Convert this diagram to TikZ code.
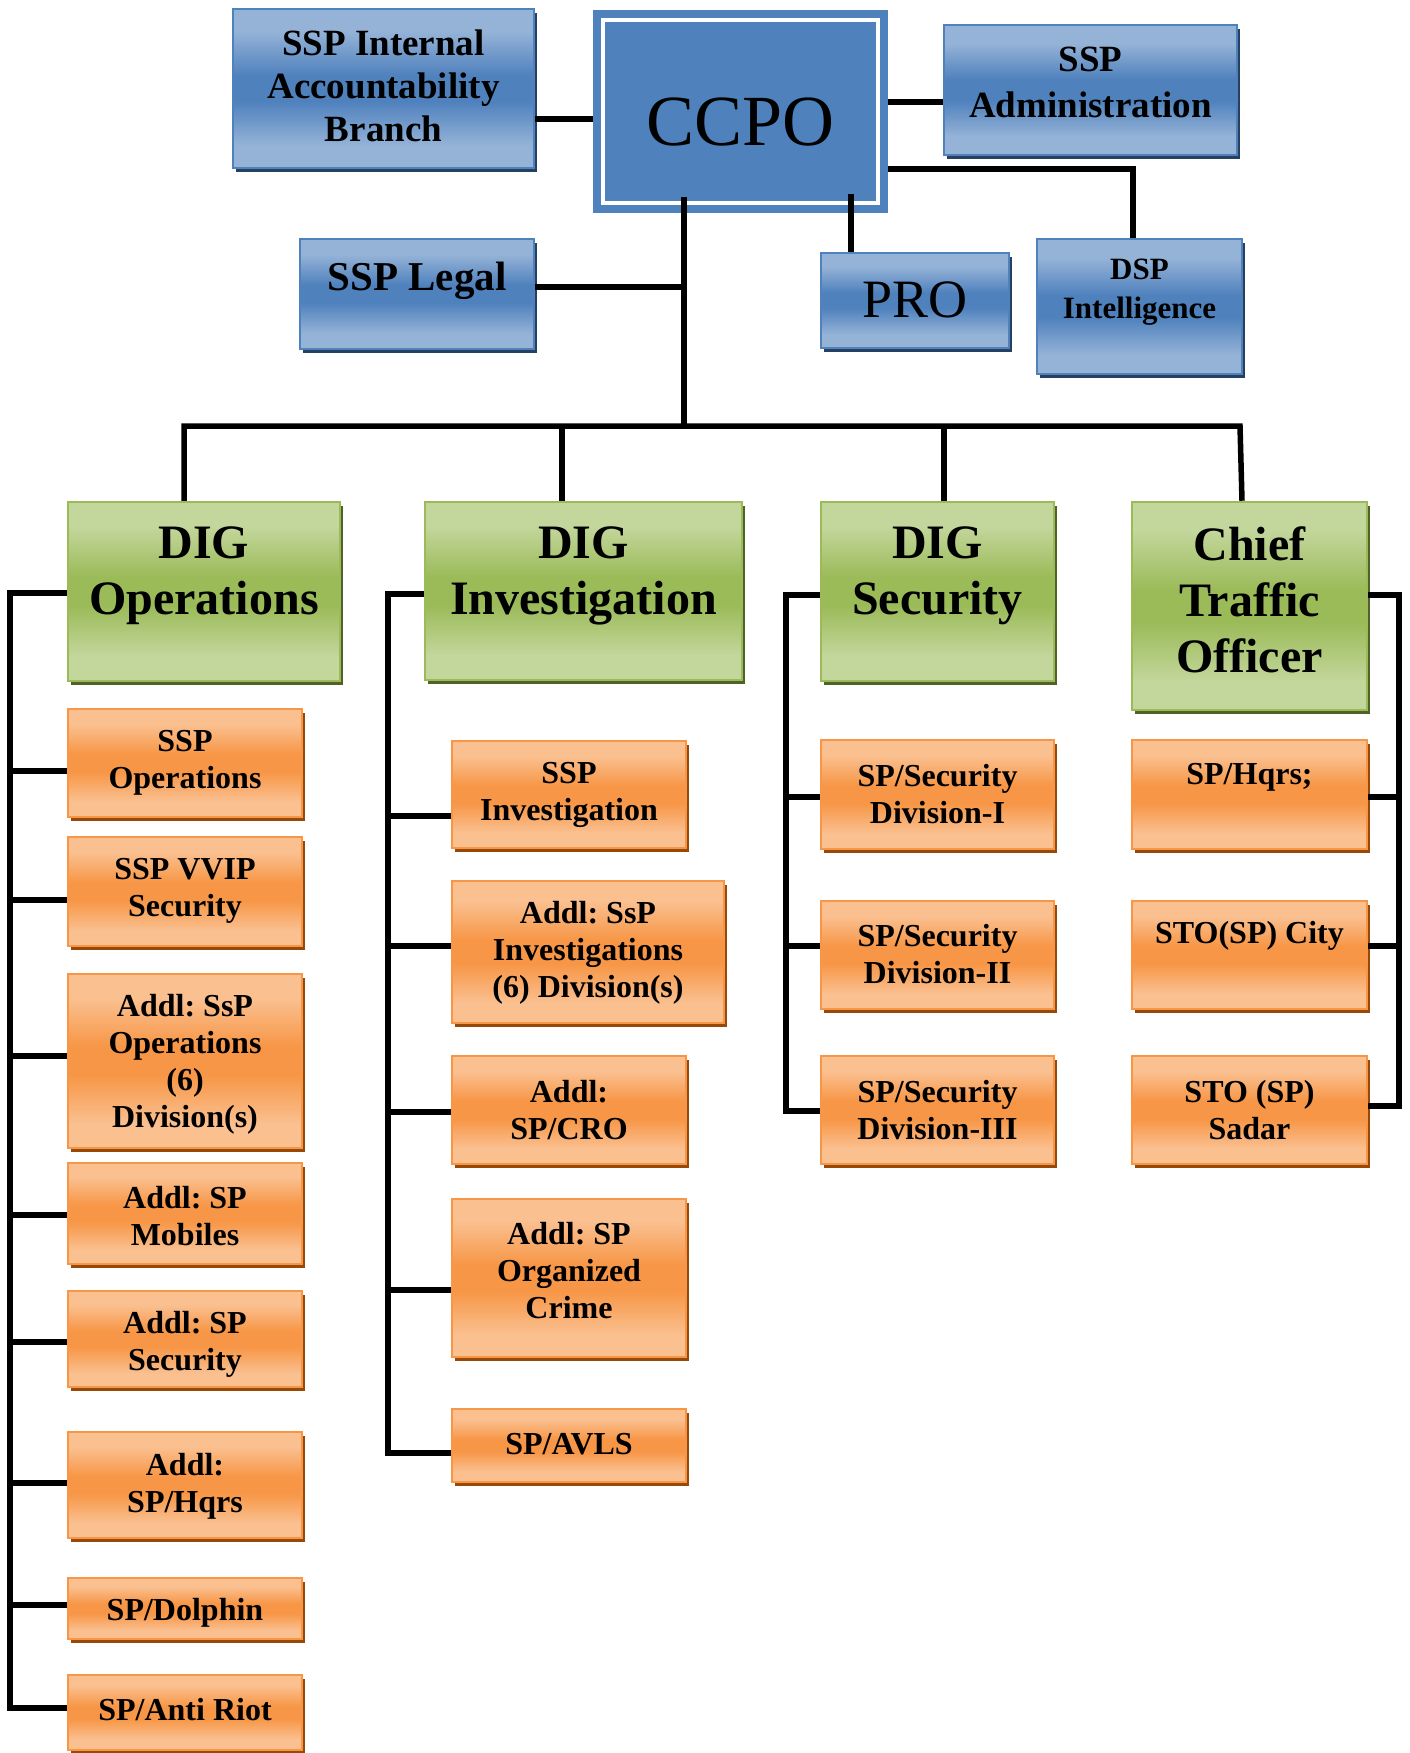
\documentclass[tikz,border=0pt]{standalone}
\usepackage{fontspec}
\setmainfont{Liberation Serif}
\usetikzlibrary{shadows,fit}
\frenchspacing
\definecolor{cbL}{HTML}{95B3D7}
\definecolor{cbD}{HTML}{4F81BD}
\definecolor{cbS}{HTML}{254061}
\definecolor{cgL}{HTML}{C3D69B}
\definecolor{cgD}{HTML}{9BBB59}
\definecolor{cgS}{HTML}{4F6228}
\definecolor{coL}{HTML}{FAC090}
\definecolor{coD}{HTML}{F79646}
\definecolor{coS}{HTML}{984807}
\pgfdeclareverticalshading{bshade}{100bp}{color(0bp)=(cbL); color(32bp)=(cbL); color(46bp)=(cbD); color(54bp)=(cbD); color(68bp)=(cbL); color(100bp)=(cbL)}
\pgfdeclareverticalshading{gshade}{100bp}{color(0bp)=(cgL); color(32bp)=(cgL); color(46bp)=(cgD); color(54bp)=(cgD); color(68bp)=(cgL); color(100bp)=(cgL)}
\pgfdeclareverticalshading{oshade}{100bp}{color(0bp)=(coL); color(32bp)=(coL); color(46bp)=(coD); color(54bp)=(coD); color(68bp)=(coL); color(100bp)=(coL)}
\begin{document}
\begin{tikzpicture}[x=1pt,y=-1pt,
  bbox/.style={draw=cbD, line width=2.5pt, shade, shading=bshade, inner sep=0pt,
    drop shadow={shadow xshift=3pt, shadow yshift=-4pt, fill=cbS, opacity=1}},
  gbox/.style={draw=cgD, line width=2.5pt, shade, shading=gshade, inner sep=0pt,
    drop shadow={shadow xshift=3pt, shadow yshift=-4pt, fill=cgS, opacity=1}},
  obox/.style={draw=coD, line width=2.5pt, shade, shading=oshade, inner sep=0pt,
    drop shadow={shadow xshift=3pt, shadow yshift=-4pt, fill=coS, opacity=1}},
  conn/.style={line width=5.5pt, draw=black, line join=miter},
  fsib/.style={align=center, inner sep=0pt, font=\bfseries\fontsize{37pt}{43pt}\selectfont},
  fadm/.style={align=center, inner sep=0pt, font=\bfseries\fontsize{37pt}{46pt}\selectfont},
  fleg/.style={align=center, inner sep=0pt, font=\bfseries\fontsize{41pt}{46pt}\selectfont},
  fdsp/.style={align=center, inner sep=0pt, font=\bfseries\fontsize{31pt}{39pt}\selectfont},
  fpro/.style={align=center, inner sep=0pt, font=\fontsize{54pt}{60pt}\selectfont},
  fccpo/.style={align=center, inner sep=0pt, font=\fontsize{72pt}{80pt}\selectfont},
  fdig/.style={align=center, inner sep=0pt, font=\bfseries\fontsize{48pt}{56pt}\selectfont},
  fsub/.style={align=center, inner sep=0pt, font=\bfseries\fontsize{32pt}{37pt}\selectfont}]
\useasboundingbox (0,0) rectangle (1410,1753);

% ---------- top level ----------
\node[fill=cbD, inner sep=0pt, fit={(593,10)(888,213)}] (ccpo) {};
\draw[white, line width=4pt] ([shift={(10.5,10.5)}]ccpo.north west) rectangle ([shift={(-10.5,-10.5)}]ccpo.south east);
\node[fccpo] (ccpo-t) at (740.5,122) {CCPO};

\node[bbox, fit={(233,9)(534,168)}] (sib) {};
\node[fsib] (sib-t) at (383.5,86) {SSP Internal\\Accountability\\Branch};
\node[bbox, fit={(944,25)(1237,155)}] (adm) {};
\node[fadm] (adm-t) at (1090.5,82) {SSP\\Administration};
\node[bbox, fit={(300,239)(534,349)}] (leg) {};
\node[fleg] (leg-t) at (417,281) {SSP Legal};
\node[bbox, fit={(821,253)(1009,348)}] (pro) {};
\node[fpro] (pro-t) at (915,300) {PRO};
\node[bbox, fit={(1037,239)(1242,374)}] (dsp) {};
\node[fdsp] (dsp-t) at (1139.5,292) {DSP\\Intelligence};

% ---------- DIG level ----------
\node[gbox, fit={(68,502)(340,681)}] (ops) {};
\node[fdig] (ops-t) at (204,576) {DIG\\Operations};
\node[gbox, fit={(425,502)(742,680)}] (inv) {};
\node[fdig] (inv-t) at (583.5,576) {DIG\\Investigation};
\node[gbox, fit={(821,502)(1054,681)}] (sec) {};
\node[fdig] (sec-t) at (937.5,576) {DIG\\Security};
\node[gbox, fit={(1132,502)(1367,710)}] (cto) {};
\node[fdig] (cto-t) at (1249.5,600) {Chief\\Traffic\\Officer};

% ---------- Operations column ----------
\node[obox, fit={(68,709)(302,817)}] (o1) {};
\node[fsub] (o1-t) at (185,763) {SSP\\Operations};
\node[obox, fit={(68,837)(302,946)}] (o2) {};
\node[fsub] (o2-t) at (185,891) {SSP VVIP\\Security};
\node[obox, fit={(68,974)(302,1148)}] (o3) {};
\node[fsub] (o3-t) at (185,1064) {Addl: SsP\\Operations\\(6)\\Division(s)};
\node[obox, fit={(68,1163)(302,1264)}] (o4) {};
\node[fsub] (o4-t) at (185,1216) {Addl: SP\\Mobiles};
\node[obox, fit={(68,1291)(302,1387)}] (o5) {};
\node[fsub] (o5-t) at (185,1344) {Addl: SP\\Security};
\node[obox, fit={(68,1432)(302,1538)}] (o6) {};
\node[fsub] (o6-t) at (185,1486) {Addl:\\SP/Hqrs};
\node[obox, fit={(68,1578)(302,1639)}] (o7) {};
\node[fsub] (o7-t) at (185,1613) {SP/Dolphin};
\node[obox, fit={(68,1675)(302,1750)}] (o8) {};
\node[fsub] (o8-t) at (185,1710) {SP/Anti Riot};

% ---------- Investigation column ----------
\node[obox, fit={(452,741)(686,848)}] (i1) {};
\node[fsub] (i1-t) at (569,795) {SSP\\Investigation};
\node[obox, fit={(452,881)(724,1023)}] (i2) {};
\node[fsub] (i2-t) at (588,953) {Addl: SsP\\Investigations\\(6) Division(s)};
\node[obox, fit={(452,1056)(686,1164)}] (i3) {};
\node[fsub] (i3-t) at (569,1110) {Addl:\\SP/CRO};
\node[obox, fit={(452,1199)(686,1357)}] (i4) {};
\node[fsub] (i4-t) at (569,1271) {Addl: SP\\Organized\\Crime};
\node[obox, fit={(452,1409)(686,1482)}] (i5) {};
\node[fsub] (i5-t) at (569,1444) {SP/AVLS};

% ---------- Security column ----------
\node[obox, fit={(821,740)(1054,849)}] (s1) {};
\node[fsub] (s1-t) at (937.5,794) {SP/Security\\Division-I};
\node[obox, fit={(821,901)(1054,1009)}] (s2) {};
\node[fsub] (s2-t) at (937.5,954) {SP/Security\\Division-II};
\node[obox, fit={(821,1056)(1054,1164)}] (s3) {};
\node[fsub] (s3-t) at (937.5,1110) {SP/Security\\Division-III};

% ---------- Traffic column ----------
\node[obox, fit={(1132,740)(1367,849)}] (t1) {};
\node[fsub] (t1-t) at (1249.5,777) {SP/Hqrs;};
\node[obox, fit={(1132,901)(1367,1009)}] (t2) {};
\node[fsub] (t2-t) at (1249.5,936) {STO(SP) City};
\node[obox, fit={(1132,1056)(1367,1164)}] (t3) {};
\node[fsub] (t3-t) at (1249.5,1110) {STO (SP)\\Sadar};

% ---------- connectors ----------
\coordinate (trk) at (684,197);
\coordinate (proj) at (851,194);
\coordinate (legj) at (684,287);
\coordinate (busL) at (184,426);
\coordinate (busR) at (1240,426);
\coordinate (busC) at (684,426);

\draw[conn] (sib.east |- 0,119) -- (ccpo.west |- 0,119);
\draw[conn] (ccpo.east |- 0,102) -- (adm.west |- 0,102);
\draw[conn] (ccpo.east |- 0,169) -- (1133,169) -- (1133,0 |- dsp.north);
\draw[conn] (proj) -- (proj |- pro.north);
\draw[conn] (trk) -- (busC);
\draw[conn] (leg.east |- legj) -- (legj);
\draw[conn] (184,0 |- ops.north) -- (busL) -- (busR) -- (1242,0 |- cto.north);
\draw[conn] (562,426) -- (562,0 |- inv.north);
\draw[conn] (944,426) -- (944,0 |- sec.north);

% operations
\draw[conn] (ops.west |- 0,593) -- (10,593) -- (10,1708) -- (o8.west |- 0,1708);
\foreach \n/\y in {o1/771,o2/900,o3/1056,o4/1215,o5/1342,o6/1483,o7/1605}
  \draw[conn] (10,\y) -- (\n.west |- 0,\y);
% investigation
\draw[conn] (inv.west |- 0,594) -- (388,594) -- (388,1453) -- (i5.west |- 0,1453);
\foreach \n/\y in {i1/816,i2/946,i3/1112,i4/1290}
  \draw[conn] (388,\y) -- (\n.west |- 0,\y);
% security
\draw[conn] (sec.west |- 0,595) -- (786,595) -- (786,1111) -- (s3.west |- 0,1111);
\foreach \n/\y in {s1/797,s2/946}
  \draw[conn] (786,\y) -- (\n.west |- 0,\y);
% traffic
\draw[conn] (cto.east |- 0,595) -- (1399,595) -- (1399,1106) -- (t3.east |- 0,1106);
\foreach \n/\y in {t1/797,t2/946}
  \draw[conn] (1399,\y) -- (\n.east |- 0,\y);
\end{tikzpicture}
\end{document}
